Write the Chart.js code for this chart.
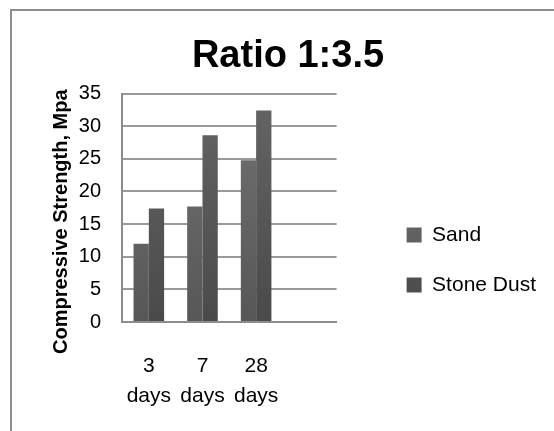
<!DOCTYPE html>
<html><head><meta charset="utf-8">
<script src="https://cdn.jsdelivr.net/npm/chart.js@4/dist/chart.umd.min.js"></script>
<style>
html,body{margin:0;padding:0;background:#fff;}
#wrap{position:relative;width:554px;height:431px;overflow:hidden;}
#frame{position:absolute;left:10px;top:9px;width:600px;height:500px;border-left:2px solid #8c8c8c;border-top:2px solid #8c8c8c;pointer-events:none;}
canvas{position:absolute;left:0;top:0;}
</style></head><body>
<div id="wrap"><canvas id="c" width="554" height="431"></canvas><div id="frame"></div></div>
<script>
const categories = [["3", "days"], ["7", "days"], ["28", "days"], ""];
const seriesNames = ["Sand", "Stone Dust"];
const sandValues = [12, 17.7, 24.8, null];
const stoneDustValues = [17.4, 28.6, 32.4, null];
const yTicks = [0, 5, 10, 15, 20, 25, 30, 35];
const chartTitle = "Ratio 1:3.5";
const yTitle = "Compressive Strength, Mpa";

const FAMILY = "'Liberation Sans', Arial, sans-serif";
Chart.defaults.font.family = FAMILY;
Chart.defaults.color = '#000';

function grad(top, bottom) {
  return (ctx) => {
    const a = ctx.chart.chartArea;
    if (!a) return bottom;
    const g = ctx.chart.ctx.createLinearGradient(0, a.top, 0, a.bottom);
    g.addColorStop(0, top);
    g.addColorStop(1, bottom);
    return g;
  };
}

new Chart(document.getElementById('c'), {
  type: 'bar',
  data: {
    labels: categories,
    datasets: [
      { label: seriesNames[0], data: sandValues, backgroundColor: grad('#727272', '#575757'), borderWidth: 0, barPercentage: 1, categoryPercentage: 0.57 },
      { label: seriesNames[1], data: stoneDustValues, backgroundColor: grad('#656565', '#4a4a4a'), borderWidth: 0, barPercentage: 1, categoryPercentage: 0.57 }
    ]
  },
  options: {
    responsive: false,
    animation: false,
    devicePixelRatio: 1,
    layout: { padding: { left: 30, right: 8, top: 0, bottom: 0 } },
    plugins: {
      title: { display: true, text: chartTitle, color: '#000', font: { size: 38, weight: 'bold', lineHeight: 1.2 }, padding: { top: 34, bottom: 14 } },
      legend: {
        position: 'right', align: 'start', maxWidth: 220,
        title: { display: true, text: ' ', font: { size: 12, lineHeight: 1.2 }, padding: { top: 181, bottom: 0 } },
        labels: { boxWidth: 15, boxHeight: 15, padding: 29, color: '#000', font: { size: 21 } }
      },
      tooltip: { enabled: false }
    },
    scales: {
      x: {
        grid: { display: true, drawOnChartArea: false, drawTicks: false },
        border: { display: true, color: '#8c8c8c', width: 2 },
        ticks: { color: '#000', font: { size: 21, lineHeight: 30 / 21 }, padding: 29, maxRotation: 0, autoSkip: false },
        afterFit: (s) => { s.height = 109; }
      },
      y: {
        min: 0, max: 35,
        afterBuildTicks: (s) => { s.ticks = yTicks.map(v => ({ value: v })); },
        grid: { color: '#9a9a9a', lineWidth: 2, drawTicks: false },
        border: { display: true, color: '#8c8c8c', width: 2 },
        ticks: { color: '#000', font: { size: 20 }, padding: 21 },
        title: { display: true, text: yTitle + '     ', color: '#000', font: { size: 20, weight: 'bold', lineHeight: 1.2 }, padding: { top: 19, bottom: 5 } },
        afterFit: (s) => { s.width = 92; }
      },
      yPad: {
        position: 'right', display: true,
        grid: { display: false }, border: { display: false }, ticks: { display: false },
        afterFit: (s) => { s.width = 41; }
      }
    }
  }
});
</script>
</body></html>
